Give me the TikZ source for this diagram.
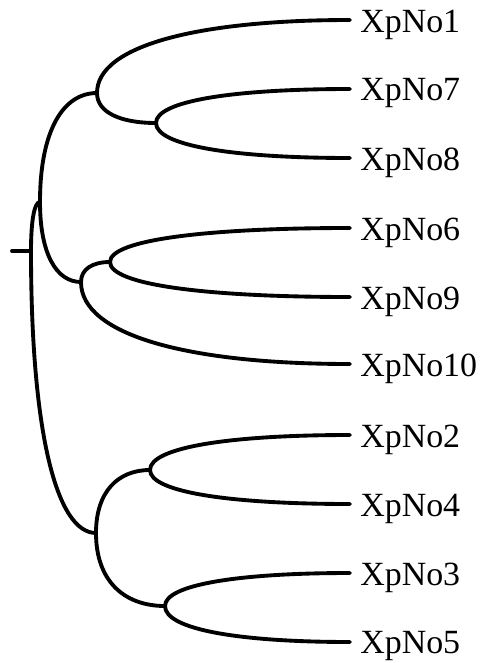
\documentclass[tikz,border=0pt]{standalone}
\usepackage{fontspec}
\setmainfont{Liberation Serif}
\usetikzlibrary{calc, positioning}

\newcommand{\branch}[2]{\draw[edge] (#1) .. controls ($(#1)!0.65!(#1|-#2)$) and ($(#1|-#2)!0.4!(#2)$) .. (#2);}

\begin{document}
\begin{tikzpicture}[x=0.02cm, y=-0.02cm,
    edge/.style={line width=2.2pt, line cap=round},
    leaf/.style={right=0.2cm of #1, inner sep=0pt, yshift=-0.09cm, font=\fontsize{19.3}{20}\selectfont}]
    \useasboundingbox (0,0) rectangle (482,663);

    % 内部结点
    \coordinate (stub) at (12,251);
    \coordinate (root) at (31,251);
    \coordinate (a) at (40,202);
    \coordinate (c) at (97,93);
    \coordinate (d) at (156,123);
    \coordinate (e) at (81,282);
    \coordinate (f) at (110,262);
    \coordinate (b) at (96,533);
    \coordinate (g) at (150,470);
    \coordinate (h) at (165,606);

    % 叶结点
    \coordinate (l1) at (350,20);
    \coordinate (l7) at (350,89);
    \coordinate (l8) at (350,158);
    \coordinate (l6) at (350,228);
    \coordinate (l9) at (350,297);
    \coordinate (l10) at (350,364);
    \coordinate (l2) at (350,435);
    \coordinate (l4) at (350,504);
    \coordinate (l3) at (350,573);
    \coordinate (l5) at (350,642);

    \node[leaf=l1] (n1) {XpNo1};
    \node[leaf=l7] (n7) {XpNo7};
    \node[leaf=l8] (n8) {XpNo8};
    \node[leaf=l6] (n6) {XpNo6};
    \node[leaf=l9] (n9) {XpNo9};
    \node[leaf=l10] (n10) {XpNo10};
    \node[leaf=l2] (n2) {XpNo2};
    \node[leaf=l4] (n4) {XpNo4};
    \node[leaf=l3] (n3) {XpNo3};
    \node[leaf=l5] (n5) {XpNo5};

    % 根
    \draw[edge] (stub) -- (root);
    \branch{root}{a}
    \branch{root}{b}

    % 上半部分
    \branch{a}{c}
    \branch{a}{e}
    \branch{c}{l1}
    \branch{c}{d}
    \branch{d}{l7}
    \branch{d}{l8}
    \branch{e}{f}
    \branch{e}{l10}
    \branch{f}{l6}
    \branch{f}{l9}

    % 下半部分
    \branch{b}{g}
    \branch{b}{h}
    \branch{g}{l2}
    \branch{g}{l4}
    \branch{h}{l3}
    \branch{h}{l5}
\end{tikzpicture}
\end{document}
